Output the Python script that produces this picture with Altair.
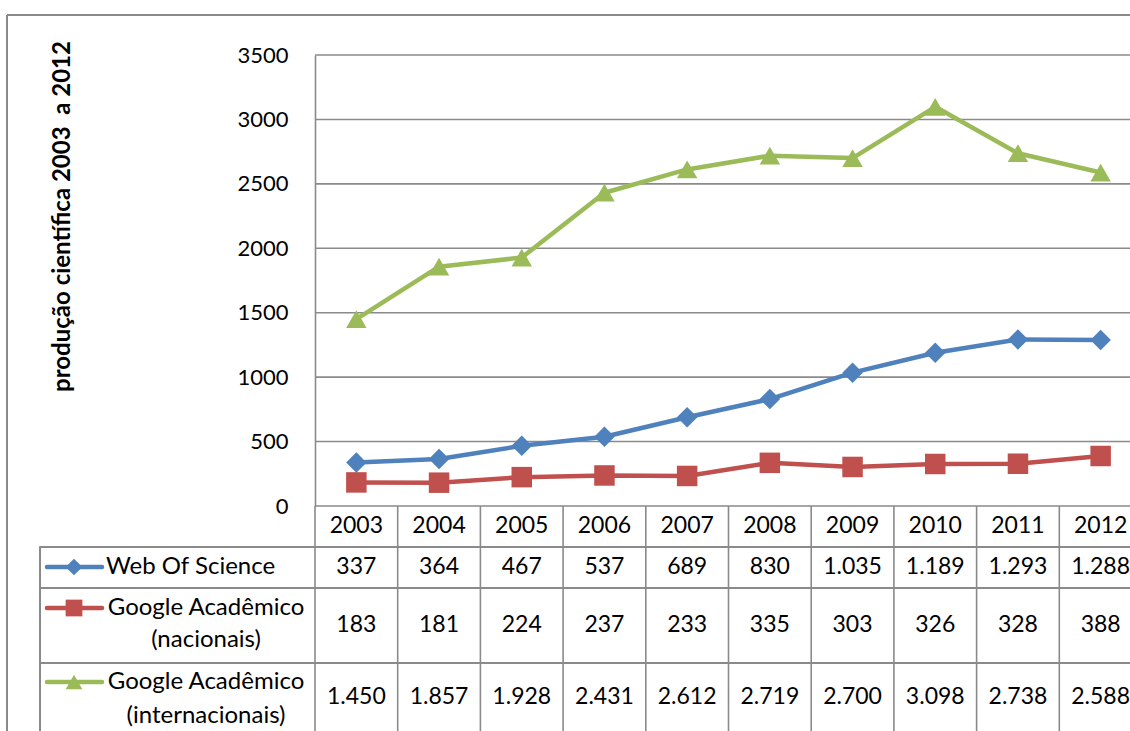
import altair as alt
import pandas as pd

# ---------------- data ----------------
years = [2003, 2004, 2005, 2006, 2007, 2008, 2009, 2010, 2011, 2012]
web_of_science = [337, 364, 467, 537, 689, 830, 1035, 1189, 1293, 1288]
google_nacionais = [183, 181, 224, 237, 233, 335, 303, 326, 328, 388]
google_internacionais = [1450, 1857, 1928, 2431, 2612, 2719, 2700, 3098, 2738, 2588]
series_names = ["Web Of Science", "Google Acadêmico (nacionais)", "Google Acadêmico (internacionais)"]
legend_line1 = ["Web Of Science", "Google Acadêmico", "Google Acadêmico"]
legend_line2 = ["", "(nacionais)", "(internacionais)"]
y_ticks = [0, 500, 1000, 1500, 2000, 2500, 3000, 3500]
axis_title = "produção científica 2003\u00a0 a 2012"

# ---------------- styles / layout ----------------
series_colors = ["#4F81BD", "#C0504D", "#9BBB59"]
series_shapes = ["diamond", "square", "triangle-up"]
FONT = "Lato"
FS_AXIS = 22
FS_NUM = 23
FS_TEXT = 24
GRID = "#8a8a8a"
W, H = 815, 451          # plot area
COL = 82.7               # pixel width of one year column
X_MAX = W / COL
BOTTOM = 676             # bottom of the visible table (relative to plot top)
row_lines = [491.7, 533, 607.7]       # horizontal table lines below header
header_y = 471
value_row_y = [512, 570, 642]
legend_key_y = [512, 553, 627]
legend_line2_y = [None, 585, 661]
LEG_LEFT = -275
KEY_X1, KEY_X2, KEY_MID = -268, -213, -241
TEXT_LEFT = -209
TEXT_CENTER = -109

series_values = [web_of_science, google_nacionais, google_internacionais]
rows = []
for s, (name, vals) in enumerate(zip(series_names, series_values)):
    for i, (yr, v) in enumerate(zip(years, vals)):
        rows.append({"s": s, "series": name, "year": str(yr), "xc": i + 0.5,
                     "value": v, "label": f"{v:,}".replace(",", ".")})
df = pd.DataFrame(rows)
years_df = pd.DataFrame({"year": [str(y) for y in years],
                         "xc": [i + 0.5 for i in range(len(years))],
                         "xb": list(range(len(years)))})
ticks_df = pd.DataFrame({"v": y_ticks})

xs = alt.Scale(domain=[0, X_MAX], nice=False, zero=False)
ys = alt.Scale(domain=[0, 3500], nice=False, zero=True)
cs = alt.Scale(domain=series_names, range=series_colors)
ss = alt.Scale(domain=series_names, range=series_shapes)

grid = alt.Chart(ticks_df).mark_rule(color=GRID, strokeWidth=1.6).encode(
    y=alt.Y("v:Q", scale=ys, axis=alt.Axis(
        values=y_ticks, format="d", grid=False, ticks=False, domain=True, domainColor=GRID,
        domainWidth=1.6, labelFont=FONT, labelFontSize=FS_AXIS, labelColor="black",
        labelPadding=27, title=axis_title, titleFont=FONT, titleFontSize=FS_TEXT,
        titleFontWeight="bold", titleColor="black", titleAngle=270,
        titleAlign="center", titleBaseline="middle", titleX=-253, titleY=161)),
    x=alt.value(0), x2=alt.value(W))

lines = alt.Chart(df).mark_line(strokeWidth=4.5, strokeJoin="round", strokeCap="round").encode(
    x=alt.X("xc:Q", scale=xs, axis=None),
    y=alt.Y("value:Q", scale=ys),
    color=alt.Color("series:N", scale=cs, legend=None),
    detail="series:N")

points = alt.Chart(df).mark_point(filled=True, size=420, opacity=1).encode(
    x=alt.X("xc:Q", scale=xs, axis=None),
    y=alt.Y("value:Q", scale=ys),
    color=alt.Color("series:N", scale=cs, legend=None),
    shape=alt.Shape("series:N", scale=ss, legend=None))

layers = [grid, lines, points]

# ---------- outer border ----------
layers.append(alt.Chart(ticks_df).mark_rule(color=GRID, strokeWidth=1.6).encode(
    x=alt.value(-308), x2=alt.value(W), y=alt.value(-40)))
layers.append(alt.Chart(ticks_df).mark_rule(color=GRID, strokeWidth=1.6).encode(
    x=alt.value(-308), y=alt.value(-40), y2=alt.value(BOTTOM)))

# ---------- data table grid ----------
layers.append(alt.Chart(years_df).mark_rule(color=GRID, strokeWidth=1.6).encode(
    x=alt.X("xb:Q", scale=xs, axis=None), y=alt.value(H), y2=alt.value(BOTTOM)))
for ry in row_lines:
    layers.append(alt.Chart(ticks_df).mark_rule(color=GRID, strokeWidth=1.6).encode(
        x=alt.value(LEG_LEFT), x2=alt.value(W), y=alt.value(ry)))
layers.append(alt.Chart(ticks_df).mark_rule(color=GRID, strokeWidth=1.6).encode(
    x=alt.value(LEG_LEFT), y=alt.value(row_lines[0]), y2=alt.value(BOTTOM)))

# header years
layers.append(alt.Chart(years_df).mark_text(font=FONT, fontSize=FS_NUM, color="black",
                                             align="center", baseline="middle").encode(
    x=alt.X("xc:Q", scale=xs, axis=None), y=alt.value(header_y), text="year:N"))

# values per series
for s, name in enumerate(series_names):
    sub = df[df["s"] == s]
    layers.append(alt.Chart(sub).mark_text(font=FONT, fontSize=FS_NUM, color="black",
                                           align="center", baseline="middle").encode(
        x=alt.X("xc:Q", scale=xs, axis=None), y=alt.value(value_row_y[s]), text="label:N"))
    key = pd.DataFrame({"series": [name]})
    layers.append(alt.Chart(key).mark_rule(strokeWidth=4.5, strokeCap="round").encode(
        x=alt.value(KEY_X1), x2=alt.value(KEY_X2), y=alt.value(legend_key_y[s]),
        color=alt.Color("series:N", scale=cs, legend=None)))
    layers.append(alt.Chart(key).mark_point(filled=True, size=280, opacity=1).encode(
        x=alt.value(KEY_MID), y=alt.value(legend_key_y[s]),
        color=alt.Color("series:N", scale=cs, legend=None),
        shape=alt.Shape("series:N", scale=ss, legend=None)))
    if legend_line2[s]:
        lab = pd.DataFrame({"t1": [legend_line1[s]], "t2": [legend_line2[s]]})
        layers.append(alt.Chart(lab).mark_text(font=FONT, fontSize=FS_TEXT, color="black",
                                               align="center", baseline="middle").encode(
            x=alt.value(TEXT_CENTER), y=alt.value(legend_key_y[s]), text="t1:N"))
        layers.append(alt.Chart(lab).mark_text(font=FONT, fontSize=FS_TEXT, color="black",
                                               align="center", baseline="middle").encode(
            x=alt.value(TEXT_CENTER), y=alt.value(legend_line2_y[s]), text="t2:N"))
    else:
        lab = pd.DataFrame({"t1": [legend_line1[s]]})
        layers.append(alt.Chart(lab).mark_text(font=FONT, fontSize=FS_TEXT, color="black",
                                               align="left", baseline="middle").encode(
            x=alt.value(TEXT_LEFT), y=alt.value(legend_key_y[s]), text="t1:N"))

chart = alt.layer(*layers).properties(
    width=W, height=H,
    autosize=alt.AutoSizeParams(type="none"),
    padding={"left": 315, "top": 55, "right": 0, "bottom": 731 - 55 - H},
    background="white",
).configure_view(stroke=None)

chart.save("out.html", embed_options={"renderer": "svg", "actions": False})
